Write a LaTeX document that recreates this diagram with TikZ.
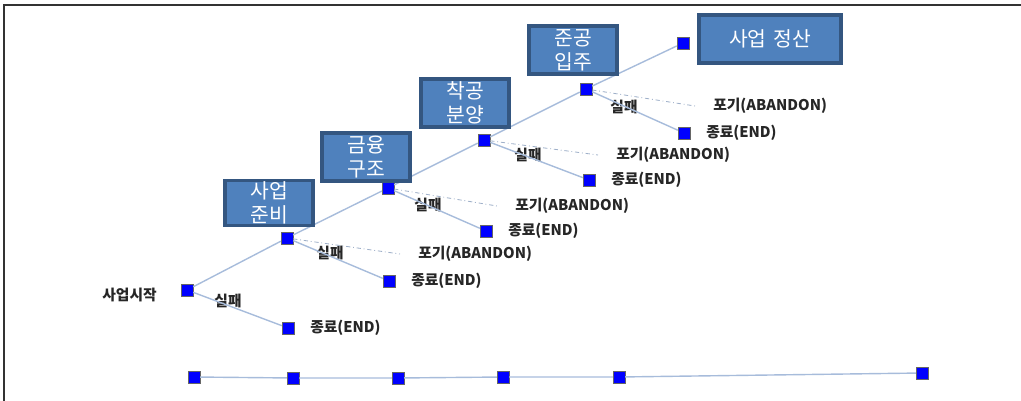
\documentclass[tikz,border=0pt]{standalone}
\usepackage{fontspec}
\newfontfamily\krfont{Noto Sans CJK KR}
\usepackage{xcolor}
\usetikzlibrary{shadows}
\definecolor{boxfill}{RGB}{79,129,189}
\definecolor{boxline}{RGB}{52,86,128}
\definecolor{linkcol}{RGB}{167,188,219}
\tikzset{
  stage/.style={draw=boxline, fill=boxfill, line width=2.4pt, text=white, font=\krfont\fontsize{14.5}{17}\selectfont, align=center, inner sep=0pt, text width=2.2cm, minimum height=1.2cm, drop shadow={opacity=.25, shadow xshift=1pt, shadow yshift=-1pt}},
  sq/.style={draw=black!60, fill=blue, line width=.3pt, minimum size=.3cm, inner sep=0pt},
  lbl/.style={font=\krfont\bfseries\fontsize{10.5}{12}\selectfont, text=black!85, inner sep=0pt},
  link/.style={draw=linkcol, line width=1pt},
  quit/.style={draw=linkcol!80!gray, line width=.6pt, dash dot}
}
\begin{document}
\begin{tikzpicture}[x=0.025cm, y=-0.025cm]
        \useasboundingbox (0,0) rectangle (1021,401);
        \draw [black!80, line width=1.2pt] (4,401) -- (4,5) -- (1021,5);
        % stage squares
        \node [sq] (s0) at (187,290) {};
        \node [sq] (s1) at (287,238) {};
        \node [sq] (s2) at (388,188) {};
        \node [sq] (s3) at (484,140) {};
        \node [sq] (s4) at (586,89) {};
        \node [sq] (s5) at (683,43) {};
        \node [lbl, anchor=east] (start) at (157,295) {사업시작};
        \path [link] (s0) edge (s1) (s1) edge (s2) (s2) edge (s3) (s3) edge (s4) (s4) edge (s5);
        % failure branches
        \foreach \i/\ex/\ey/\ax/\ay/\fx/\fy in {0/288/328/0/0/228/301, 1/389/281/400/254/330/253, 2/486/231/497/206/428/205, 3/589/180/598/155/528/155, 4/684/133/695/106/624/107}{
            \node [sq] (e\i) at (\ex,\ey) {};
            \node [lbl, anchor=west] (end\i) at (\ex+22,\ey) {종료(END)};
            \node [lbl] (fail\i) at (\fx,\fy) {실패};
            \draw [link] (s\i) -- (e\i);
            \ifnum\i>0
                \coordinate (a\i) at (\ax,\ay);
                \node [lbl, anchor=west] (ab\i) at (\ax+18,\ay) {포기(ABANDON)};
                \draw [quit] (s\i) -- (a\i);
            \fi
        }
        % stage boxes
        \node [stage, minimum height=1.12cm] (prep) at (269,203) {사업\\준비};
        \node [stage] (fin) at (366,157) {금융\\구조};
        \node [stage] (build) at (465,103) {착공\\분양};
        \node [stage] (done) at (573,50) {준공\\입주};
        \node [stage, text width=3.55cm] (settle) at (770,39) {사업 정산};
        % timeline
        \node [sq] (t0) at (194,377) {};
        \node [sq] (t1) at (293,378) {};
        \node [sq] (t2) at (398,378) {};
        \node [sq] (t3) at (503,377) {};
        \node [sq] (t4) at (619,377) {};
        \node [sq] (t5) at (922,373) {};
        \draw [link] (t0) -- (t1) -- (t2) -- (t3) -- (t4) -- (t5);
\end{tikzpicture}
\end{document}
